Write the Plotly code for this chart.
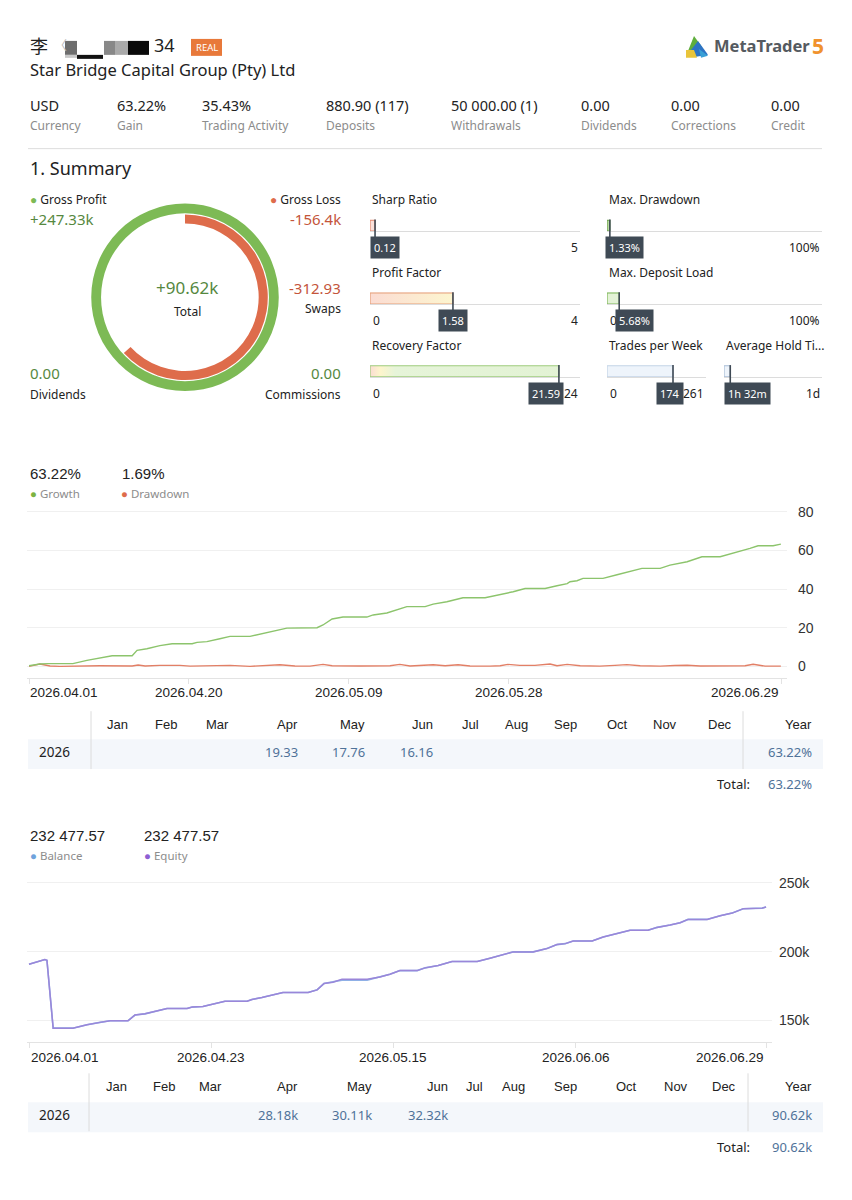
import plotly.graph_objects as go

W, H = 852, 1200


def X(px):
    return px / W


def Y(py):
    return 1 - py / H


UI = "Noto Sans"
CH = "Liberation Sans"
CJK = "Noto Sans CJK SC"

# ---------------- data ----------------
name_first = "李"
name_tail = "34"
company = "Star Bridge Capital Group (Pty) Ltd"
stat_values = ["USD", "63.22%", "35.43%", "880.90 (117)", "50 000.00 (1)", "0.00", "0.00", "0.00"]
stat_labels = ["Currency", "Gain", "Trading Activity", "Deposits", "Withdrawals", "Dividends", "Corrections", "Credit"]

gross_profit = 247.33   # thousands
gross_loss = 156.4      # thousands
gross_profit_text = "+247.33k"
gross_loss_text = "-156.4k"
total_text = "+90.62k"
swaps_text = "-312.93"
dividends_text = "0.00"
commissions_text = "0.00"

gauge_names = ["Sharp Ratio", "Profit Factor", "Recovery Factor",
               "Max. Drawdown", "Max. Deposit Load", "Trades per Week", "Average Hold Ti..."]
gauge_values = [0.12, 1.58, 21.59, 1.33, 5.68, 174, 92]
gauge_max = [5, 4, 24, 100, 100, 261, 1440]
gauge_value_text = ["0.12", "1.58", "21.59", "1.33%", "5.68%", "174", "1h 32m"]
gauge_min_text = ["", "0", "0", "", "0", "0", ""]   # hidden behind the value box in the original
gauge_max_text = ["5", "4", "24", "100%", "100%", "261", "1d"]

growth_last = "63.22%"
drawdown_last = "1.69%"
growth_dates = [
    "2026-04-01 00:00", "2026-04-02 07:00", "2026-04-03 06:00", "2026-04-06 05:00",
    "2026-04-07 21:00", "2026-04-09 10:00", "2026-04-10 21:00", "2026-04-13 06:00",
    "2026-04-13 20:00", "2026-04-15 00:00", "2026-04-16 13:00", "2026-04-18 00:00",
    "2026-04-20 09:00", "2026-04-20 23:00", "2026-04-22 03:00", "2026-04-23 16:00",
    "2026-04-24 21:00", "2026-04-27 06:00", "2026-04-28 10:00", "2026-04-29 23:00",
    "2026-05-01 15:00", "2026-05-05 05:00", "2026-05-05 22:00", "2026-05-07 00:00",
    "2026-05-08 07:00", "2026-05-11 03:00", "2026-05-11 21:00", "2026-05-13 12:00",
    "2026-05-14 17:00", "2026-05-15 21:00", "2026-05-18 01:00", "2026-05-19 00:00",
    "2026-05-20 15:00", "2026-05-22 13:00", "2026-05-25 04:00", "2026-05-26 23:00",
    "2026-05-28 12:00", "2026-05-29 22:00", "2026-06-01 07:00", "2026-06-02 17:00",
    "2026-06-03 22:00", "2026-06-04 06:00", "2026-06-05 02:00", "2026-06-05 19:00",
    "2026-06-08 04:00", "2026-06-09 20:00", "2026-06-11 09:00", "2026-06-12 19:00",
    "2026-06-14 23:00", "2026-06-16 03:00", "2026-06-18 04:00", "2026-06-19 02:00",
    "2026-06-19 22:00", "2026-06-22 02:00", "2026-06-23 06:00", "2026-06-24 19:00",
    "2026-06-25 15:00", "2026-06-26 14:00", "2026-06-28 09:00", "2026-06-29 07:00",
]
growth_values = [
    0.3, 1.2, 1.4, 1.4, 3.1, 4.5, 5.5, 5.5, 8.3, 9.1, 10.7, 11.7,
    11.7, 12.4, 12.8, 14.3, 15.5, 15.5, 16.7, 18.1, 19.8, 20.0, 21.4, 24.5,
    25.5, 25.5, 26.6, 27.6, 29.1, 30.9, 30.9, 32.2, 33.4, 35.5, 35.5, 37.1,
    38.6, 40.3, 40.3, 41.7, 42.8, 43.8, 44.3, 45.5, 45.5, 47.4, 49.3, 50.7,
    50.7, 52.4, 54.1, 55.3, 56.7, 56.7, 58.1, 59.7, 61.0, 62.4, 62.4, 63.22,
]
drawdown_dates = [
    "2026-04-01 00:00", "2026-04-01 14:00", "2026-04-02 07:00", "2026-04-03 12:00",
    "2026-04-04 16:00", "2026-04-09 10:00", "2026-04-12 10:00", "2026-04-13 06:00",
    "2026-04-13 23:00", "2026-04-14 19:00", "2026-04-16 13:00", "2026-04-18 22:00",
    "2026-04-20 03:00", "2026-04-22 12:00", "2026-04-24 21:00", "2026-04-27 06:00",
    "2026-04-29 01:00", "2026-04-30 19:00", "2026-05-02 14:00", "2026-05-04 09:00",
    "2026-05-05 22:00", "2026-05-07 00:00", "2026-05-10 07:00", "2026-05-12 02:00",
    "2026-05-13 21:00", "2026-05-15 01:00", "2026-05-16 06:00", "2026-05-19 00:00",
    "2026-05-20 10:00", "2026-05-21 23:00", "2026-05-23 09:00", "2026-05-25 18:00",
    "2026-05-26 23:00", "2026-05-27 21:00", "2026-05-29 07:00", "2026-05-31 02:00",
    "2026-06-01 21:00", "2026-06-02 17:00", "2026-06-03 22:00", "2026-06-05 11:00",
    "2026-06-07 19:00", "2026-06-09 14:00", "2026-06-11 00:00", "2026-06-12 14:00",
    "2026-06-14 23:00", "2026-06-16 17:00", "2026-06-18 04:00", "2026-06-19 17:00",
    "2026-06-23 06:00", "2026-06-25 01:00", "2026-06-26 00:00", "2026-06-27 10:00",
    "2026-06-29 07:00",
]
drawdown_values = [
    0.0, 0.5, 1.2, 0.2, 0.0, 0.3, 0.5, 0.2, 0.7, 0.2, 0.5, 0.5,
    0.1, 0.3, 0.5, 0.0, 0.3, 0.8, 0.2, 0.1, 1.0, 0.3, 0.2, 0.4,
    0.3, 1.0, 0.2, 0.8, 0.3, 0.8, 0.2, 0.1, 0.3, 1.0, 0.5, 0.5,
    1.2, 0.3, 1.0, 0.3, 0.1, 0.5, 0.9, 0.3, 0.1, 0.4, 0.6, 0.2,
    0.1, 0.3, 1.1, 0.1, 0.1,
]
growth_tick_dates = ["2026-04-01", "2026-04-20", "2026-05-09", "2026-05-28", "2026-06-29 07:26"]
growth_tick_text = ["2026.04.01", "2026.04.20", "2026.05.09", "2026.05.28", "2026.06.29"]
growth_y_ticks = [0, 20, 40, 60, 80]

balance_last = "232 477.57"
equity_last = "232 477.57"
balance_dates = [
    "2026-04-01 00:00", "2026-04-02 22:00", "2026-04-03 04:00", "2026-04-03 22:00",
    "2026-04-06 07:00", "2026-04-08 00:00", "2026-04-09 14:00", "2026-04-10 19:00",
    "2026-04-12 23:00", "2026-04-13 19:00", "2026-04-15 00:00", "2026-04-16 11:00",
    "2026-04-17 16:00", "2026-04-20 02:00", "2026-04-20 17:00", "2026-04-22 00:00",
    "2026-04-23 05:00", "2026-04-24 16:00", "2026-04-27 08:00", "2026-04-27 22:00",
    "2026-04-29 03:00", "2026-04-30 11:00", "2026-05-01 16:00", "2026-05-04 17:00",
    "2026-05-05 19:00", "2026-05-06 15:00", "2026-05-07 17:00", "2026-05-08 19:00",
    "2026-05-11 20:00", "2026-05-13 09:00", "2026-05-14 14:00", "2026-05-15 19:00",
    "2026-05-17 21:00", "2026-05-18 20:00", "2026-05-20 10:00", "2026-05-22 02:00",
    "2026-05-25 03:00", "2026-05-26 16:00", "2026-05-28 03:00", "2026-05-29 11:00",
    "2026-05-31 21:00", "2026-06-02 13:00", "2026-06-03 18:00", "2026-06-04 18:00",
    "2026-06-05 17:00", "2026-06-08 00:00", "2026-06-09 08:00", "2026-06-11 00:00",
    "2026-06-12 14:00", "2026-06-14 18:00", "2026-06-15 20:00", "2026-06-17 10:00",
    "2026-06-18 15:00", "2026-06-19 14:00", "2026-06-21 21:00", "2026-06-23 11:00",
    "2026-06-24 22:00", "2026-06-26 06:00", "2026-06-28 13:00", "2026-06-29 00:00",
]
balance_values = [
    190800, 194200, 193700, 144400, 144400, 146900, 148600, 149800,
    149800, 153900, 154800, 157000, 158700, 158700, 159700, 160100,
    161800, 164000, 164000, 165200, 166700, 168800, 170300, 170300,
    172200, 176800, 177800, 179300, 179300, 181600, 183600, 186200,
    186200, 188200, 189900, 192800, 192800, 195200, 197600, 199800,
    199800, 202200, 205100, 205800, 207700, 207700, 210600, 213300,
    215500, 215500, 217600, 219300, 221000, 223400, 223400, 226100,
    228000, 231200, 231600, 232477.57,
]
equity_values = [
    190800, 194200, 193700, 144400, 144400, 146900, 148600, 149800,
    149800, 153900, 154800, 157000, 158700, 158700, 159700, 160100,
    161800, 164000, 164000, 165200, 166700, 168800, 170300, 170300,
    172200, 176800, 177800, 180000, 180000, 181600, 183600, 186200,
    186200, 188200, 189900, 192800, 192800, 195200, 197600, 199800,
    199800, 202200, 205100, 205800, 207700, 207700, 210600, 213300,
    215500, 215500, 217600, 219300, 221000, 223400, 223400, 226100,
    228000, 231200, 231600, 232477.57,
]
balance_tick_dates = ["2026-04-01", "2026-04-23", "2026-05-15", "2026-06-06", "2026-06-29"]
balance_tick_text = ["2026.04.01", "2026.04.23", "2026.05.15", "2026.06.06", "2026.06.29"]
balance_y_ticks = [150000, 200000, 250000]
balance_y_text = ["150k", "200k", "250k"]

months = ["Jan", "Feb", "Mar", "Apr", "May", "Jun", "Jul", "Aug", "Sep", "Oct", "Nov", "Dec"]
year_label = "2026"
growth_month_values = ["", "", "", "19.33", "17.76", "16.16", "", "", "", "", "", ""]
growth_year_value = "63.22%"
growth_total_value = "63.22%"
profit_month_values = ["", "", "", "28.18k", "30.11k", "32.32k", "", "", "", "", "", ""]
profit_year_value = "90.62k"
profit_total_value = "90.62k"

# ---------------- colours ----------------
GREEN = "#7dba55"
ORANGE = "#de6c4b"
GREEN_TXT = "#56883f"
ORANGE_TXT = "#c4553b"
DARK = "#222222"
GREY = "#8c8c8c"
BOX = "#3f4a55"
BLUE_TXT = "#4f7299"

fig = go.Figure()
ann = []
shapes = []


def text(px, py, t, size=13, color=DARK, xanchor="left", family=UI, yanchor="middle", dy=-2):
    ann.append(dict(x=X(px), y=Y(py + dy), xref="paper", yref="paper", text=t, showarrow=False,
                    xanchor=xanchor, yanchor=yanchor,
                    font=dict(size=size, color=color, family=family)))


def rect(x0, y0, x1, y1, color, line=None):
    shapes.append(dict(type="rect", xref="paper", yref="paper", x0=X(x0), x1=X(x1), y0=Y(y1), y1=Y(y0),
                       fillcolor=color, line=dict(width=0) if line is None else line, layer="above"))


def hline(x0, x1, y, color="#e3e3e3", width=1):
    shapes.append(dict(type="line", xref="paper", yref="paper", x0=X(x0), x1=X(x1), y0=Y(y), y1=Y(y),
                       line=dict(color=color, width=width)))


def vline(x, y0, y1, color="#dedede", width=1):
    shapes.append(dict(type="line", xref="paper", yref="paper", x0=X(x), x1=X(x), y0=Y(y0), y1=Y(y1),
                       line=dict(color=color, width=width)))


# ---------------- header ----------------
text(28, 44, name_first, size=18, family=CJK)
text(52, 44, "〈", size=13, color="#bbbbbb", family=CJK)
rect(65, 38, 77, 52, "#6d6d6d")
rect(65, 52, 77, 55, "#c8c8c8")
rect(77, 52, 103, 56, "#111111")
rect(104, 38, 115, 52, "#888888")
rect(115, 38, 128, 52, "#aaaaaa")
rect(128, 38, 149, 52, "#0a0a0a")
text(177, 44, name_tail, size=18, xanchor="right")
rect(191, 36, 222, 53, "#e8793a")
text(206.5, 46.5, "REAL", size=9.5, color="white", xanchor="center")
text(28, 69, company, size=16.5)


# MetaTrader logo
def poly(pts, color):
    path = "M " + " L ".join(f"{X(a):.5f},{Y(b):.5f}" for a, b in pts) + " Z"
    shapes.append(dict(type="path", xref="paper", yref="paper", path=path, fillcolor=color,
                       line=dict(width=0)))


poly([(694, 33), (702, 44), (688, 48)], "#5fae3c")
poly([(698, 38), (708, 52), (696, 54), (691, 47)], "#2d74c4")
poly([(686, 47), (694, 47), (697, 55), (686, 55)], "#e9c43a")
poly([(699, 46), (708, 53), (701, 55)], "#39a0d6")
text(712, 45, "<b>MetaTrader</b>", size=16.5, color="#555a60")
text(810, 45, "<b>5</b>", size=21, color="#f0922d")

stat_x = [28, 115, 200, 324, 449, 579, 669, 769]
for sx, v, l in zip(stat_x, stat_values, stat_labels):
    text(sx, 104, v, size=14.5, color=DARK)
    text(sx, 125, l, size=12, color=GREY)
hline(28, 822, 146, "#dddddd")
text(28, 167, "1. Summary", size=18)

# ---------------- donut ----------------
cx, cy = 185, 295
fig.add_trace(go.Pie(values=[gross_profit], marker=dict(colors=[GREEN], line=dict(width=0)),
                     hole=0.895, sort=False, textinfo="none", hoverinfo="skip", showlegend=False,
                     domain=dict(x=[X(cx - 94), X(cx + 94)], y=[Y(cy + 94), Y(cy - 94)])))
fig.add_trace(go.Pie(values=[gross_loss, gross_profit - gross_loss],
                     marker=dict(colors=[ORANGE, "rgba(0,0,0,0)"], line=dict(width=0)),
                     hole=0.89, sort=False, direction="clockwise", rotation=0, textinfo="none",
                     hoverinfo="skip", showlegend=False,
                     domain=dict(x=[X(cx - 83), X(cx + 83)], y=[Y(cy + 83), Y(cy - 83)])))

text(28, 199, f'<span style="color:{GREEN}">●</span> Gross Profit', size=12)
text(28, 219, gross_profit_text, size=15, color=GREEN_TXT)
text(343, 199, f'<span style="color:{ORANGE}">●</span> Gross Loss', size=12, xanchor="right")
text(343, 219, gross_loss_text, size=15, color=ORANGE_TXT, xanchor="right")
text(187, 287, total_text, size=17, color=GREEN_TXT, xanchor="center")
text(187, 311, "Total", size=12, xanchor="center")
text(343, 288, swaps_text, size=15, color=ORANGE_TXT, xanchor="right")
text(343, 308, "Swaps", size=12, xanchor="right")
text(28, 373, dividends_text, size=15, color=GREEN_TXT)
text(28, 394, "Dividends", size=12)
text(343, 373, commissions_text, size=15, color=GREEN_TXT, xanchor="right")
text(343, 394, "Commissions", size=12, xanchor="right")

# ---------------- gauges ----------------
g_x = [(370, 580), (370, 580), (370, 580), (607, 822), (607, 822), (607, 706), (724, 822)]
g_row = [199, 272, 345, 199, 272, 345, 345]
g_fill = [
    [[0, "#fbe1da"], [1, "#fbe1da"]],
    [[0, "#fbdcd3"], [0.42, "#fdf7cf"], [1, "#e4f3d6"]],
    [[0, "#fbdcd3"], [0.05, "#fdf5cc"], [0.12, "#e6f4d9"], [1, "#e2f2d4"]],
    [[0, "#b9d9a2"], [1, "#b9d9a2"]],
    [[0, "#e3f2d6"], [1, "#e3f2d6"]],
    [[0, "#eef4fb"], [1, "#eef4fb"]],
    [[0, "#eef4fb"], [1, "#eef4fb"]],
]
g_line = ["#e58a70", "#e6a07a", "#9fcb7e", "#6ca24c", "#7db658", "#c3d3e6", "#a9bdd6"]
g_anchor = ["left", "center", "center", "left", "left", "center", "left"]
g_shift = [0, 0, -13, -2, 8, -3, 0]

for i in range(len(gauge_names)):
    n = i + 3
    x0, x1 = g_x[i]
    ty = g_row[i]
    yt, yb = ty + 18, ty + 30
    v = gauge_values[i]
    fig.add_trace(go.Scatter(
        x=[0, v, v, 0, 0], y=[-0.5, -0.5, 0.5, 0.5, -0.5], mode="lines", fill="toself",
        fillgradient=dict(type="horizontal", colorscale=g_fill[i], start=0, stop=gauge_max[i]),
        line=dict(color=g_line[i], width=1.2), hoverinfo="skip", showlegend=False,
        xaxis=f"x{n}", yaxis=f"y{n}", cliponaxis=False))
    fig.update_layout(**{
        f"xaxis{n}": dict(domain=[X(x0), X(x1)], range=[0, gauge_max[i]], anchor=f"y{n}",
                          showgrid=False, zeroline=False, showticklabels=False, ticks="",
                          showline=True, linecolor="#dcdcdc", linewidth=1, fixedrange=True),
        f"yaxis{n}": dict(domain=[Y(yb), Y(yt)], range=[-0.52, 0.56], anchor=f"x{n}",
                          visible=False, fixedrange=True),
    })
    text(x0, ty, gauge_names[i], size=12)
    if gauge_min_text[i]:
        text(x0 + 1, yb + 18, gauge_min_text[i], size=12)
    text(x1, yb + 18, gauge_max_text[i], size=12, xanchor="right")
    shapes.append(dict(type="line", xref=f"x{n}", yref="paper", x0=v, x1=v, y0=Y(yt), y1=Y(yb + 6),
                       line=dict(color=BOX, width=1.6)))
    ann.append(dict(x=v if g_anchor[i] != "left" else 0, xref=f"x{n}", y=Y(yb + 5), yref="paper",
                    text=gauge_value_text[i], showarrow=False, xanchor=g_anchor[i], yanchor="top",
                    xshift=g_shift[i], bgcolor=BOX, borderpad=3,
                    font=dict(size=11, color="white", family=UI)))

# ---------------- growth chart ----------------
text(28, 474, growth_last, size=15, family=CH)
text(120, 474, drawdown_last, size=15, family=CH)
text(28, 494, '<span style="color:#7cb342">●</span> Growth', size=11.5, color=GREY)
text(119, 494, f'<span style="color:{ORANGE}">●</span> Drawdown', size=11.5, color=GREY)

fig.add_trace(go.Scatter(x=drawdown_dates, y=drawdown_values, mode="lines",
                         line=dict(color="#e27f66", width=1.4), hoverinfo="skip",
                         showlegend=False, xaxis="x", yaxis="y"))
fig.add_trace(go.Scatter(x=growth_dates, y=growth_values, mode="lines",
                         line=dict(color="#8cc46c", width=1.4), hoverinfo="skip",
                         showlegend=False, xaxis="x", yaxis="y"))
fig.update_layout(
    xaxis=dict(domain=[X(27), X(787)], type="date", range=["2026-03-31 18:18", "2026-06-30 00:30"],
               anchor="y", showgrid=False, zeroline=False, showline=True, linecolor="#e3e3e3",
               ticks="outside", ticklen=5, tickcolor="#e3e3e3", tickvals=growth_tick_dates,
               showticklabels=False, fixedrange=True),
    yaxis=dict(domain=[Y(677), Y(505)], range=[-6.19, 82.58], anchor="x", side="right",
               showgrid=True, gridcolor="#f0f0f0", zeroline=False, tickvals=growth_y_ticks,
               ticks="", ticklabelstandoff=10, tickfont=dict(family=CH, size=14, color="#333"),
               fixedrange=True),
)
for i, (d, t) in enumerate(zip(growth_tick_dates, growth_tick_text)):
    xa = "left" if i == 0 else ("right" if i == len(growth_tick_dates) - 1 else "center")
    ann.append(dict(x=d, xref="x", y=Y(691), yref="paper", text=t, showarrow=False, xanchor=xa,
                    yanchor="middle", xshift=-1 if i == 0 else 0,
                    font=dict(family=CH, size=13.5, color="#222")))


# ---------------- tables ----------------
def month_table(hy, ry, ty, sep_top, sep_bot, bg_top, bg_bot, seps, col_right, values, yv, tv):
    rect(28, bg_top, 823, bg_bot, "#f4f7fb")
    shapes[-1]["layer"] = "below"
    for sx in seps:
        vline(sx, sep_top, sep_bot, "#dcdcdc")
    for m, r in zip(months, col_right[:12]):
        text(r, hy, m, size=13, family=CH, xanchor="right", dy=0)
    text(col_right[12], hy, "Year", size=13, family=CH, xanchor="right", dy=0)
    text(37, ry, year_label, size=13.5, family=UI, color="#222", dy=-1)
    for v, r in zip(values, col_right[:12]):
        if v:
            text(r, ry, v, size=13, color=BLUE_TXT, xanchor="right", dy=-1)
    text(col_right[12], ry, yv, size=13, color=BLUE_TXT, xanchor="right", dy=-1)
    text(752, ty, "Total:", size=13, xanchor="right", dy=-1)
    text(col_right[12], ty, tv, size=13, color=BLUE_TXT, xanchor="right", dy=-1)


month_table(723, 752, 784, 710, 768, 738, 768, [91, 743],
            [130, 179, 231, 300, 367, 435, 481, 530, 579, 630, 679, 734, 814],
            growth_month_values, growth_year_value, growth_total_value)

# ---------------- balance chart ----------------
text(28, 837, balance_last, size=15, family=CH)
text(142, 837, equity_last, size=15, family=CH)
text(28, 857, '<span style="color:#6fa3dc">●</span> Balance', size=11.5, color=GREY)
text(142, 857, '<span style="color:#8e5fd3">●</span> Equity', size=11.5, color=GREY)

fig.add_trace(go.Scatter(x=balance_dates, y=balance_values, mode="lines",
                         line=dict(color="#8fb0e6", width=1.6), hoverinfo="skip",
                         showlegend=False, xaxis="x2", yaxis="y2"))
fig.add_trace(go.Scatter(x=balance_dates, y=equity_values, mode="lines",
                         line=dict(color="#9a86d9", width=1.5), hoverinfo="skip",
                         showlegend=False, xaxis="x2", yaxis="y2"))
fig.update_layout(
    xaxis2=dict(domain=[X(27), X(772)], type="date", range=["2026-03-31 18:12", "2026-06-29 17:17"],
                anchor="y2", showgrid=False, zeroline=False, showline=True, linecolor="#e3e3e3",
                ticks="outside", ticklen=5, tickcolor="#e3e3e3", tickvals=balance_tick_dates,
                showticklabels=False, fixedrange=True),
    yaxis2=dict(domain=[Y(1042), Y(877)], range=[134058, 253623], anchor="x2", side="right",
                showgrid=True, gridcolor="#f0f0f0", zeroline=False, tickvals=balance_y_ticks,
                ticktext=balance_y_text, ticks="", ticklabelstandoff=6,
                tickfont=dict(family=CH, size=14, color="#333"), fixedrange=True),
)
for i, (d, t) in enumerate(zip(balance_tick_dates, balance_tick_text)):
    xa = "left" if i == 0 else ("right" if i == len(balance_tick_dates) - 1 else "center")
    ann.append(dict(x=d, xref="x2", y=Y(1057), yref="paper", text=t, showarrow=False, xanchor=xa,
                    yanchor="middle", font=dict(family=CH, size=13.5, color="#222")))

month_table(1086, 1116, 1148, 1073, 1131, 1102, 1132, [89, 748],
            [129, 177, 224, 300, 374, 450, 485, 527, 579, 639, 690, 738, 814],
            profit_month_values, profit_year_value, profit_total_value)

fig.update_layout(width=W, height=H, margin=dict(l=0, r=0, t=0, b=0), autosize=False,
                  paper_bgcolor="white", plot_bgcolor="white", showlegend=False,
                  annotations=ann, shapes=shapes, font=dict(family=UI))
fig.write_html("out.html")
